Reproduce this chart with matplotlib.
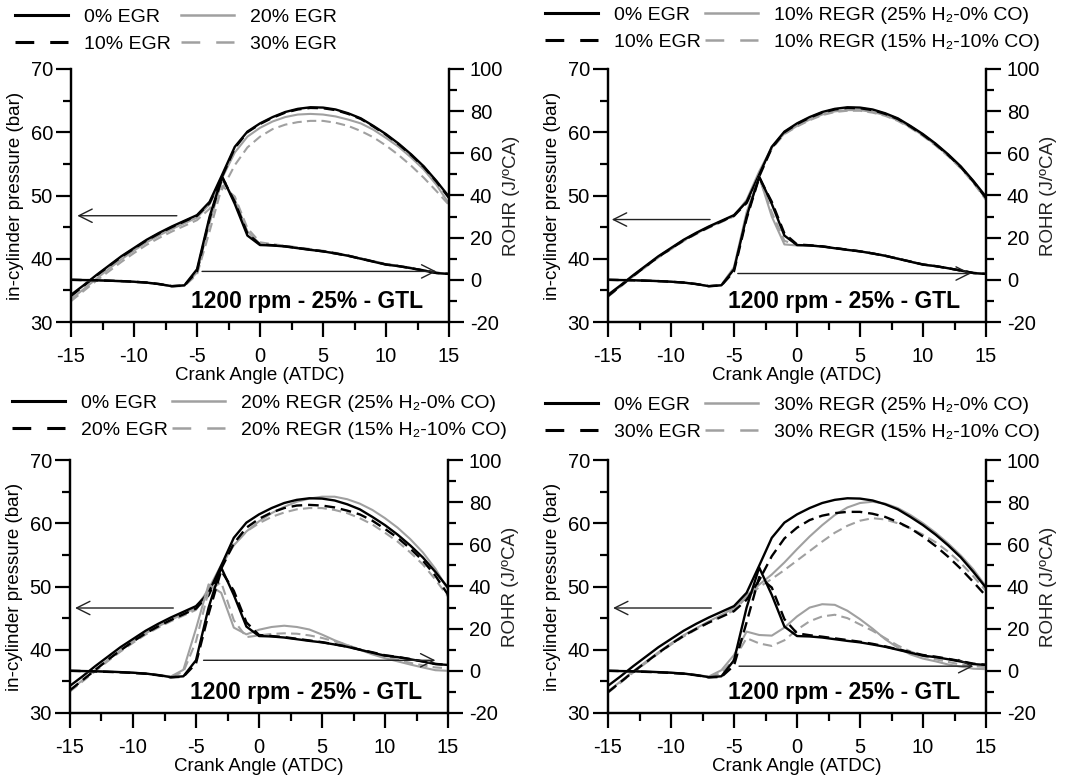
import matplotlib
matplotlib.use("Agg")
from matplotlib import pyplot as plt
from matplotlib.lines import Line2D

plt.rcParams['font.family'] = ['Liberation Sans', 'DejaVu Sans']
plt.rcParams['axes.unicode_minus'] = False

# crank angle grid (deg ATDC)
ca = list(range(-15, 16))

# 0% EGR
p_0 = [34.3, 35.8, 37.4, 38.9, 40.4, 41.7, 43.0, 44.1, 45.1, 46.0, 46.9, 49.0, 53.3, 57.7, 60.1, 61.4,
       62.4, 63.2, 63.7, 63.95, 63.9, 63.6, 63.0, 62.2, 61.0, 59.7, 58.2, 56.5, 54.6, 52.3, 49.8]
r_0 = [0.0, -0.1, -0.2, -0.4, -0.6, -0.9, -1.3, -2.0, -3.0, -2.6, 5.0, 30.0, 49.0, 36.0, 21.0, 16.5,
       16.3, 15.8, 15.0, 14.2, 13.5, 12.5, 11.4, 10.0, 8.6, 7.2, 6.5, 5.5, 4.4, 3.2, 2.8]

# 10% EGR
p_e10 = [34.1, 35.7, 37.3, 38.8, 40.3, 41.6, 42.9, 44.0, 45.0, 45.9, 46.8, 48.8, 53.0, 57.5, 60.0, 61.3,
         62.3, 63.1, 63.6, 63.85, 63.8, 63.5, 62.9, 62.1, 60.9, 59.6, 58.1, 56.4, 54.5, 52.2, 49.6]
r_e10 = [0.0, -0.1, -0.2, -0.4, -0.6, -0.9, -1.3, -2.0, -3.0, -2.7, 4.0, 29.0, 48.5, 37.0, 22.0, 16.8,
         16.4, 15.9, 15.1, 14.3, 13.5, 12.5, 11.4, 10.0, 8.7, 7.3, 6.5, 5.5, 4.4, 3.3, 2.8]

# 20% EGR
p_e20 = [33.6, 35.2, 36.8, 38.4, 39.9, 41.3, 42.6, 43.7, 44.7, 45.6, 46.5, 48.6, 52.8, 56.8, 59.3, 60.7,
         61.7, 62.4, 62.8, 62.9, 62.8, 62.5, 62.0, 61.4, 60.4, 59.1, 57.7, 56.0, 54.1, 51.7, 48.7]
r_e20 = [0.0, -0.1, -0.3, -0.5, -0.7, -1.0, -1.4, -2.1, -3.1, -2.8, 3.5, 27.0, 47.5, 38.0, 23.0, 17.0,
         16.5, 16.0, 15.2, 14.4, 13.6, 12.6, 11.5, 10.1, 8.8, 7.4, 6.6, 5.6, 4.5, 3.3, 2.8]

# 30% EGR
p_e30 = [33.3, 34.9, 36.5, 38.0, 39.5, 40.9, 42.2, 43.3, 44.3, 45.2, 46.1, 47.9, 51.0, 54.8, 57.6, 59.3,
         60.5, 61.2, 61.6, 61.8, 61.8, 61.5, 61.0, 60.2, 59.2, 57.9, 56.4, 54.7, 52.8, 50.7, 48.5]
r_e30 = [0.0, -0.1, -0.3, -0.5, -0.7, -1.0, -1.4, -2.1, -3.1, -2.9, 2.5, 23.0, 44.5, 39.5, 24.5, 17.8,
         16.9, 16.2, 15.4, 14.6, 13.8, 12.8, 11.6, 10.2, 8.9, 7.5, 6.7, 5.7, 4.6, 3.4, 2.9]

# 10% REGR (25% H2 - 0% CO) and (15% H2 - 10% CO)
p_r10a = [34.1, 35.7, 37.3, 38.8, 40.3, 41.6, 42.9, 44.0, 45.0, 45.9, 46.8, 49.3, 53.8, 57.6, 59.8, 61.0,
          62.0, 62.8, 63.3, 63.5, 63.5, 63.2, 62.7, 61.9, 60.8, 59.5, 58.0, 56.3, 54.4, 52.1, 49.5]
r_r10a = [0.0, -0.1, -0.2, -0.4, -0.6, -0.9, -1.3, -2.0, -3.0, -2.4, 6.0, 32.0, 49.0, 30.0, 16.8, 16.3,
          16.3, 15.8, 15.0, 14.3, 13.6, 12.6, 11.5, 10.1, 8.7, 7.3, 6.5, 5.5, 4.4, 3.2, 2.8]
p_r10b = [34.0, 35.6, 37.2, 38.7, 40.2, 41.5, 42.8, 43.9, 44.9, 45.8, 46.7, 49.1, 53.5, 57.4, 59.7, 60.9,
          61.9, 62.7, 63.2, 63.4, 63.4, 63.1, 62.6, 61.8, 60.7, 59.4, 57.9, 56.2, 54.3, 52.0, 49.3]
r_r10b = [0.0, -0.1, -0.2, -0.4, -0.6, -0.9, -1.3, -2.0, -3.0, -2.5, 5.5, 31.0, 48.5, 32.0, 18.5, 16.5,
          16.4, 15.9, 15.1, 14.4, 13.6, 12.6, 11.5, 10.1, 8.7, 7.3, 6.5, 5.5, 4.4, 3.2, 2.8]

# 20% REGR
p_r20a = [33.6, 35.2, 36.8, 38.4, 39.9, 41.3, 42.6, 43.7, 44.7, 45.7, 46.6, 49.6, 53.4, 56.5, 58.7, 60.3,
          61.6, 62.6, 63.4, 63.9, 64.2, 64.2, 63.8, 63.1, 62.1, 60.8, 59.3, 57.5, 55.4, 52.8, 49.5]
r_r20a = [0.0, -0.1, -0.2, -0.4, -0.6, -0.9, -1.3, -2.0, -2.7, 0.5, 20.0, 41.0, 37.0, 20.5, 17.3, 19.5,
          20.8, 21.4, 20.8, 19.6, 17.2, 14.5, 12.2, 10.0, 7.8, 6.0, 4.5, 3.0, 1.6, 0.3, 0.0]
p_r20b = [33.4, 35.0, 36.6, 38.2, 39.7, 41.1, 42.4, 43.5, 44.5, 45.4, 46.3, 49.2, 53.2, 56.6, 58.7, 60.0,
          61.0, 61.7, 62.2, 62.4, 62.4, 62.1, 61.6, 60.8, 59.8, 58.5, 57.1, 55.4, 53.5, 51.1, 48.4]
r_r20b = [0.0, -0.1, -0.2, -0.4, -0.6, -0.9, -1.3, -2.0, -2.8, -0.5, 14.0, 38.0, 42.0, 24.0, 16.0, 16.8,
          17.5, 17.8, 17.6, 16.8, 15.6, 14.0, 12.2, 10.2, 8.3, 6.6, 5.2, 3.8, 2.6, 1.6, 1.2]

# 30% REGR
p_r30a = [33.4, 35.0, 36.6, 38.1, 39.6, 41.0, 42.3, 43.4, 44.5, 45.5, 46.6, 48.6, 50.3, 51.9, 53.8, 55.9,
          57.9, 59.7, 61.3, 62.5, 63.2, 63.4, 63.1, 62.4, 61.3, 60.0, 58.5, 56.8, 54.9, 52.7, 50.0]
r_r30a = [0.0, -0.1, -0.2, -0.4, -0.6, -0.9, -1.3, -2.0, -2.7, 0.3, 7.5, 18.6, 17.0, 16.7, 20.5, 25.8,
          30.0, 31.6, 31.3, 28.5, 24.5, 20.0, 15.0, 11.0, 7.8, 5.8, 4.5, 3.0, 2.0, 1.0, 0.8]
p_r30b = [33.2, 34.8, 36.4, 37.9, 39.4, 40.8, 42.1, 43.2, 44.3, 45.3, 46.2, 48.3, 49.9, 51.2, 52.6, 54.1,
          55.6, 57.1, 58.5, 59.6, 60.4, 60.8, 60.6, 60.0, 59.2, 58.2, 57.0, 55.5, 53.7, 51.6, 49.3]
r_r30b = [0.0, -0.1, -0.2, -0.4, -0.6, -0.9, -1.3, -2.0, -3.0, -1.0, 5.5, 15.5, 13.0, 11.8, 14.5, 19.5,
          23.5, 25.8, 26.6, 25.0, 22.0, 19.0, 15.5, 12.0, 9.2, 7.0, 5.5, 4.2, 3.0, 2.2, 1.8]

BLACK = '#000000'
GREY = '#a0a0a0'
W, H = 1078, 782


def style(kind):
    # kind: 'bs' black solid, 'bd' black dashed, 'gs' grey solid, 'gd' grey dashed
    c = BLACK if kind[0] == 'b' else GREY
    lw = 1.7 if kind[0] == 'b' else 1.5
    ls = '-' if kind[1] == 's' else (0, (4.5, 2.5))
    return c, lw, ls


def panel(px_left, px_top, curves, leg_x, leg_top, colsp, larrow, rarrow):
    # axes in pixel units of the figure
    ax = fig.add_axes([px_left / W, 1 - (px_top + 253) / H, 378 / W, 253 / H])
    ax2 = ax.twinx()
    for p, r, kind, lab in curves[::-1]:
        c, lw, ls = style(kind)
        ax.plot(ca, p, color=c, lw=lw, linestyle=ls)
        ax2.plot(ca, r, color=c, lw=lw, linestyle=ls)

    ax.set_xlim(-15, 15)
    ax.set_ylim(30, 70)
    ax2.set_ylim(-20, 100)
    ax.set_xticks(range(-15, 16, 5))
    ax.set_xticks([-12.5, -7.5, -2.5, 2.5, 7.5, 12.5], minor=True)
    ax.set_yticks(range(30, 71, 10))
    ax.set_yticks(range(35, 70, 10), minor=True)
    ax2.set_yticks(range(-20, 101, 20))
    ax2.set_yticks(range(-10, 100, 20), minor=True)
    for a in (ax, ax2):
        a.spines['top'].set_visible(False)
        for s in ('left', 'right', 'bottom'):
            a.spines[s].set_linewidth(1.6)
        a.tick_params(which='major', length=11, width=1.6, labelsize=14.5, direction='out')
        a.tick_params(which='minor', length=6, width=1.6, direction='out')
    ax.tick_params(axis='y', pad=2)
    ax.tick_params(axis='x', pad=7)
    ax2.tick_params(axis='y', pad=4)
    ax.set_xlabel('Crank Angle (ATDC)', fontsize=13.5, labelpad=1)
    ax.set_ylabel('in-cylinder pressure (bar)', fontsize=13.5, labelpad=5)
    ax2.set_ylabel('ROHR (J/ºCA)', fontsize=13.5, labelpad=0, color='#222222')

    ax.text(3.7, 33.2, '1200 rpm - 25% - GTL', fontsize=16.5, fontweight='bold',
            ha='center', va='center')

    arrow = dict(arrowstyle='->,head_length=0.6,head_width=0.3', lw=1.0, color='#222222',
                 mutation_scale=16, shrinkA=0, shrinkB=0)
    ax.annotate('', xy=(larrow[1], larrow[2]), xytext=(larrow[0], larrow[2]), arrowprops=arrow)
    ax2.annotate('', xy=(rarrow[1], rarrow[2]), xytext=(rarrow[0], rarrow[2]), arrowprops=arrow)

    handles = []
    for p, r, kind, lab in curves:
        c = BLACK if kind[0] == 'b' else GREY
        lw = 2.2 if kind[0] == 'b' else 1.8
        # two long dashes across the legend handle
        ls = '-' if kind[1] == 's' else (0, (13.5 / lw, 11.5 / lw))
        handles.append(Line2D([], [], color=c, lw=lw, linestyle=ls))
    fig.legend(handles, [cv[3] for cv in curves], loc='upper left',
               bbox_to_anchor=(leg_x / W, 1 - leg_top / H), ncol=2, frameon=False,
               fontsize=14, handlelength=2.75, handletextpad=0.8, columnspacing=colsp,
               labelspacing=0.5, borderpad=0, borderaxespad=0)


fig = plt.figure(figsize=(W / 100, H / 100), dpi=100)

panel(71, 69,
      [(p_0, r_0, 'bs', '0% EGR'), (p_e10, r_e10, 'bd', '10% EGR'),
       (p_e20, r_e20, 'gs', '20% EGR'), (p_e30, r_e30, 'gd', '30% EGR')],
      15, 8, 0.5, (-6.6, -14.5, 46.8), (-4.6, 14.0, 4.0))

panel(608, 69,
      [(p_0, r_0, 'bs', '0% EGR'), (p_e10, r_e10, 'bd', '10% EGR'),
       (p_r10a, r_r10a, 'gs', '10% REGR (25% H\u2082-0% CO)'),
       (p_r10b, r_r10b, 'gd', '10% REGR (15% H\u2082-10% CO)')],
      545, 6, 0.2, (-6.9, -14.7, 46.2), (-4.7, 13.8, 3.0))

panel(70, 460,
      [(p_0, r_0, 'bs', '0% EGR'), (p_e20, r_e20, 'bd', '20% EGR'),
       (p_r20a, r_r20a, 'gs', '20% REGR (25% H\u2082-0% CO)'),
       (p_r20b, r_r20b, 'gd', '20% REGR (15% H\u2082-10% CO)')],
      12, 394, 0.2, (-6.8, -14.6, 46.6), (-4.4, 14.0, 5.0))

panel(608, 460,
      [(p_0, r_0, 'bs', '0% EGR'), (p_e30, r_e30, 'bd', '30% EGR'),
       (p_r30a, r_r30a, 'gs', '30% REGR (25% H\u2082-0% CO)'),
       (p_r30b, r_r30b, 'gd', '30% REGR (15% H\u2082-10% CO)')],
      545, 396, 0.2, (-6.8, -14.6, 46.6), (-4.6, 14.0, 2.2))

fig.savefig('out.png', dpi=100)
